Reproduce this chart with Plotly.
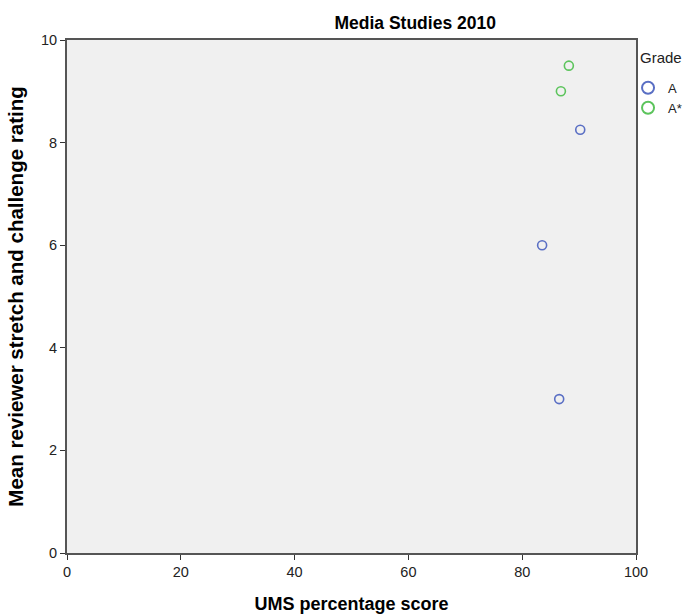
import plotly.graph_objects as go

grade_a_x = [90.2, 83.5, 86.5]
grade_a_y = [8.25, 6.0, 3.0]
grade_astar_x = [88.2, 86.8]
grade_astar_y = [9.5, 9.0]

x_ticks = [0, 20, 40, 60, 80, 100]
y_ticks = [0, 2, 4, 6, 8, 10]

fig = go.Figure()
fig.add_trace(go.Scatter(x=grade_a_x, y=grade_a_y, mode="markers", name="A",
                         marker=dict(symbol="circle-open", size=9, color="#5a6fc4", line=dict(width=1.6))))
fig.add_trace(go.Scatter(x=grade_astar_x, y=grade_astar_y, mode="markers", name="A*",
                         marker=dict(symbol="circle-open", size=9, color="#5cc45c", line=dict(width=1.6))))

narrow = "Liberation Sans Narrow, Arial Narrow, Liberation Sans, Arial"
regular = "Liberation Sans, Arial"
fig.update_layout(
    width=684, height=614,
    margin=dict(l=67, r=48, t=40, b=61, autoexpand=False),
    paper_bgcolor="white", plot_bgcolor="#f0f0f0",
    font=dict(family=narrow, color="#222", size=14),
    title=dict(text="<b>Media Studies 2010</b>", x=0.607, xanchor="center", y=0.9625, yanchor="middle",
               font=dict(size=17.5, family=regular, color="#000")),
    showlegend=True,
    legend=dict(x=0.986, xanchor="left", y=0.936, yanchor="top",
                font=dict(size=13, family=regular, color="#222"), bgcolor="rgba(0,0,0,0)",
                tracegroupgap=0, itemsizing="constant", itemwidth=30),
    annotations=[dict(text="Grade", xref="paper", yref="paper", x=1.0035, y=0.965,
                      xanchor="left", yanchor="middle", showarrow=False,
                      font=dict(size=15, family=regular, color="#222"))],
)
fig.update_xaxes(range=[0, 100], tickvals=x_ticks, showgrid=False, zeroline=False,
                 showline=True, linecolor="#555", linewidth=2, mirror=True,
                 ticks="outside", ticklen=5, tickcolor="#333", automargin=False,
                 title=dict(text="<b>UMS percentage score</b>", font=dict(size=18, family=narrow, color="#000"), standoff=18),
                 tickfont=dict(size=14.5, color="#222"))
fig.update_yaxes(range=[0, 10], tickvals=y_ticks, showgrid=False, zeroline=False,
                 showline=True, linecolor="#555", linewidth=2, mirror=True,
                 ticks="outside", ticklen=5, tickcolor="#333", automargin=False,
                 title=dict(text="<b>Mean reviewer stretch and challenge rating</b>", font=dict(size=20.5, family=regular, color="#000"), standoff=12),
                 tickfont=dict(size=14.5, color="#222"))

fig.write_html("out.html", config={"displayModeBar": False},
               post_script="document.body.style.margin='0';document.body.style.overflow='hidden';")
